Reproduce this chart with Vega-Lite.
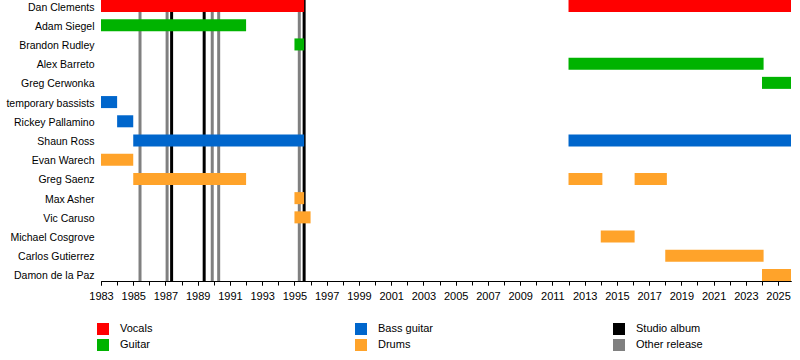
{
  "$schema": "https://vega.github.io/schema/vega-lite/v6.json",
  "autosize": {"type": "none"},
  "padding": {"left": 101, "top": 0, "right": 9, "bottom": 79},
  "width": 690,
  "height": 281,
  "background": "white",
  "config": {
    "font": "Liberation Sans",
    "view": {"stroke": null}
  },
  "datasets": {
    "members": [
      {"name": "Dan Clements", "role": "Vocals", "start": 1983, "end": 1995.6},
      {"name": "Dan Clements", "role": "Vocals", "start": 2012, "end": 2025.8},
      {"name": "Adam Siegel", "role": "Guitar", "start": 1983, "end": 1992},
      {"name": "Brandon Rudley", "role": "Guitar", "start": 1995, "end": 1995.6},
      {"name": "Alex Barreto", "role": "Guitar", "start": 2012, "end": 2024.1},
      {"name": "Greg Cerwonka", "role": "Guitar", "start": 2024, "end": 2025.8},
      {"name": "temporary bassists", "role": "Bass guitar", "start": 1983, "end": 1984},
      {"name": "Rickey Pallamino", "role": "Bass guitar", "start": 1984, "end": 1985},
      {"name": "Shaun Ross", "role": "Bass guitar", "start": 1985, "end": 1995.6},
      {"name": "Shaun Ross", "role": "Bass guitar", "start": 2012, "end": 2025.8},
      {"name": "Evan Warech", "role": "Drums", "start": 1983, "end": 1985},
      {"name": "Greg Saenz", "role": "Drums", "start": 1985, "end": 1992},
      {"name": "Greg Saenz", "role": "Drums", "start": 2012, "end": 2014.1},
      {"name": "Greg Saenz", "role": "Drums", "start": 2016.1, "end": 2018.1},
      {"name": "Max Asher", "role": "Drums", "start": 1995, "end": 1995.6},
      {"name": "Vic Caruso", "role": "Drums", "start": 1995, "end": 1996},
      {"name": "Michael Cosgrove", "role": "Drums", "start": 2014, "end": 2016.1},
      {"name": "Carlos Gutierrez", "role": "Drums", "start": 2018, "end": 2024.1},
      {"name": "Damon de la Paz", "role": "Drums", "start": 2024, "end": 2025.8}
    ],
    "releases": [
      {"year": 1985.42, "kind": "Other release"},
      {"year": 1987.1, "kind": "Other release"},
      {"year": 1987.38, "kind": "Studio album"},
      {"year": 1989.4, "kind": "Studio album"},
      {"year": 1989.9, "kind": "Other release"},
      {"year": 1990.3, "kind": "Other release"},
      {"year": 1995.3, "kind": "Other release"},
      {"year": 1995.6, "kind": "Studio album"}
    ]
  },
  "layer": [
    {
      "data": {"name": "releases"},
      "mark": {"type": "rule", "strokeWidth": 3},
      "encoding": {
        "x": {
          "field": "year", "type": "quantitative", "title": null,
          "scale": {"domain": [1983, 2025.8], "nice": false, "zero": false},
          "axis": {
            "orient": "bottom",
            "values": [1983,1984,1985,1986,1987,1988,1989,1990,1991,1992,1993,1994,1995,1996,1997,1998,1999,2000,2001,2002,2003,2004,2005,2006,2007,2008,2009,2010,2011,2012,2013,2014,2015,2016,2017,2018,2019,2020,2021,2022,2023,2024,2025],
            "labels": false, "grid": false, "domainColor": "black", "tickColor": "black", "tickSize": 4
          }
        },
        "color": {"field": "kind", "type": "nominal"}
      }
    },
    {
      "data": {"name": "members"},
      "mark": {"type": "bar"},
      "encoding": {
        "y": {
          "field": "name", "type": "nominal", "title": null,
          "sort": ["Dan Clements", "Adam Siegel", "Brandon Rudley", "Alex Barreto", "Greg Cerwonka", "temporary bassists", "Rickey Pallamino", "Shaun Ross", "Evan Warech", "Greg Saenz", "Max Asher", "Vic Caruso", "Michael Cosgrove", "Carlos Gutierrez", "Damon de la Paz"],
          "scale": {"paddingInner": 0.374, "paddingOuter": 0},
          "axis": {"domain": false, "ticks": false, "labelPadding": 7, "labelOffset": 1.5, "labelFontSize": 10.5, "labelColor": "black", "labelFont": "Liberation Sans"}
        },
        "x": {
          "field": "start", "type": "quantitative", "title": null,
          "scale": {"domain": [1983, 2025.8], "nice": false, "zero": false},
          "axis": {
            "orient": "bottom",
            "values": [1983,1985,1987,1989,1991,1993,1995,1997,1999,2001,2003,2005,2007,2009,2011,2013,2015,2017,2019,2021,2023,2025],
            "format": "d",
            "grid": false, "domainColor": "black", "tickColor": "black", "tickSize": 4,
            "labelFontSize": 11, "labelColor": "black", "labelFont": "Liberation Sans",
            "labelPadding": 5, "labelOverlap": false, "labelFlush": false
          }
        },
        "x2": {"field": "end"},
        "color": {
          "field": "role", "type": "nominal",
          "scale": {
            "domain": ["Vocals", "Guitar", "Bass guitar", "Drums", "Studio album", "Other release"],
            "range": ["#ff0000", "#00b300", "#0066cc", "#ffa32a", "#000000", "#808080"]
          },
          "legend": {
            "title": null, "orient": "none", "legendX": -4, "legendY": 323,
            "columns": 3, "gridAlign": "all", "columnPadding": 168, "rowPadding": 4,
            "symbolType": "square", "symbolSize": 144, "symbolStrokeWidth": 0,
            "labelFontSize": 11, "labelColor": "black", "labelFont": "Liberation Sans", "labelOffset": 11
          }
        }
      }
    }
  ],
  "resolve": {"scale": {"color": "shared"}, "axis": {"x": "independent"}}
}
